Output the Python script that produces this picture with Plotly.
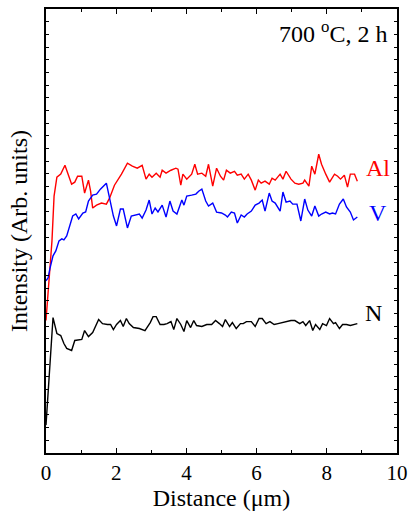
import plotly.graph_objects as go

# Distance (um) and intensity (arb. units)
al_x = [0.00,0.11,0.17,0.23,0.31,0.42,0.54,0.62,0.73,0.82,0.90,1.02,1.10,1.21,1.27,1.33,1.44,1.58,1.72,1.81,1.95,2.15,2.32,2.46,2.60,2.74,2.85,2.94,3.02,3.14,3.25,3.31,3.42,3.56,3.70,3.76,3.84,3.90,4.01,4.15,4.24,4.32,4.44,4.55,4.63,4.75,4.86,4.97,5.06,5.14,5.25,5.37,5.45,5.56,5.65,5.76,5.85,5.96,6.05,6.13,6.24,6.36,6.44,6.53,6.67,6.75,6.84,6.98,7.09,7.20,7.32,7.37,7.49,7.57,7.66,7.77,7.85,7.97,8.08,8.22,8.31,8.39,8.50,8.59,8.67,8.79,8.87]
al_y = [10.44,14.36,16.72,20.25,21.74,21.98,22.68,22.06,21.19,21.35,21.82,21.82,20.49,21.51,20.64,19.31,19.54,19.70,19.62,20.09,21.11,21.98,22.84,22.61,22.45,22.68,21.59,21.98,21.74,22.06,21.74,22.29,22.06,22.29,22.45,22.37,21.11,21.98,21.59,21.98,22.76,21.98,22.06,21.82,22.76,21.04,22.45,21.82,21.51,22.29,22.06,22.21,21.90,21.98,21.59,21.98,21.51,20.72,21.51,21.27,21.43,21.19,21.66,21.51,21.98,21.59,22.21,21.59,21.27,21.19,21.27,21.51,21.04,22.61,21.98,23.55,22.76,21.98,21.35,21.98,21.82,21.59,21.90,20.96,21.98,21.98,21.43]

v_x = [0.00,0.06,0.11,0.20,0.28,0.37,0.45,0.51,0.59,0.68,0.76,0.85,0.93,1.05,1.13,1.21,1.33,1.44,1.55,1.72,1.81,1.92,2.01,2.12,2.20,2.32,2.43,2.57,2.66,2.74,2.85,2.94,3.02,3.11,3.19,3.31,3.42,3.53,3.62,3.73,3.87,3.93,4.01,4.15,4.27,4.35,4.44,4.55,4.63,4.75,4.86,5.00,5.11,5.17,5.28,5.37,5.45,5.56,5.65,5.73,5.85,5.96,6.07,6.16,6.24,6.36,6.44,6.53,6.67,6.75,6.84,6.95,7.03,7.15,7.26,7.37,7.46,7.57,7.66,7.77,7.85,7.97,8.08,8.16,8.25,8.36,8.47,8.56,8.67,8.76,8.87]
v_y = [13.58,13.81,14.52,15.54,15.93,16.72,16.88,16.80,17.11,18.05,18.68,18.84,18.45,18.92,19.00,19.86,20.33,20.41,20.80,21.27,20.02,18.68,17.90,19.23,19.23,17.74,18.68,18.76,18.84,18.52,19.15,19.94,18.84,19.31,19.00,19.54,18.60,19.86,19.07,18.84,19.94,19.54,20.25,20.33,20.41,20.64,20.80,19.86,19.47,19.70,18.99,18.92,18.76,18.60,18.99,18.92,18.13,18.76,18.60,18.84,19.07,19.54,19.70,19.94,19.07,20.49,19.86,19.70,19.07,20.57,19.78,19.86,19.62,19.62,18.29,20.02,19.15,18.68,19.47,18.68,18.84,18.99,18.84,18.92,18.84,19.62,20.02,19.39,18.99,18.37,18.60]

n_x = [0.00,0.20,0.31,0.42,0.51,0.59,0.73,0.82,1.02,1.10,1.21,1.33,1.50,1.61,1.75,1.84,1.92,2.01,2.12,2.20,2.29,2.37,2.49,2.66,2.82,2.97,3.05,3.14,3.25,3.36,3.45,3.56,3.64,3.73,3.84,3.93,4.01,4.12,4.21,4.29,4.44,4.58,4.72,4.83,4.94,5.03,5.11,5.23,5.31,5.42,5.54,5.62,5.71,5.85,5.96,6.07,6.16,6.27,6.38,6.50,6.61,6.75,6.86,6.98,7.09,7.23,7.32,7.40,7.51,7.60,7.68,7.80,7.88,7.99,8.08,8.19,8.25,8.36,8.45,8.56,8.67,8.79,8.87]
n_y = [2.20,10.67,9.42,9.26,8.63,8.24,8.08,8.87,8.95,9.65,9.18,9.50,10.52,10.20,10.13,10.13,9.73,10.13,10.44,9.97,10.60,10.20,9.89,9.81,9.65,10.28,10.75,10.75,10.13,10.13,10.20,10.36,9.73,10.60,10.13,9.58,10.44,9.89,10.44,10.05,9.97,10.13,10.13,10.44,10.20,9.97,10.52,9.97,10.28,9.81,10.20,10.20,10.36,10.36,9.97,10.60,10.60,10.20,10.36,10.13,10.20,10.28,10.36,10.44,10.44,10.20,10.36,10.05,10.44,9.65,10.13,9.73,10.20,10.05,10.60,10.20,10.28,9.81,10.13,10.13,10.05,10.13,10.20]

x_ticks = [0, 2, 4, 6, 8, 10]

FONT = "Liberation Serif, Times New Roman, serif"

fig = go.Figure()
for xs, ys, col in [(al_x, al_y, "#ff0000"), (v_x, v_y, "#0000ff"), (n_x, n_y, "#000000")]:
    fig.add_trace(go.Scatter(x=xs, y=ys, mode="lines",
                             line=dict(color=col, width=1.4), showlegend=False))

fig.update_layout(
    width=415, height=514,
    margin=dict(l=46, r=15, t=7, b=61),
    paper_bgcolor="white", plot_bgcolor="white",
    font=dict(family=FONT, color="black", size=20),
    xaxis=dict(range=[0, 10], tickvals=x_ticks, ticktext=[str(v) for v in x_ticks],
               ticks="inside", ticklen=5, tickwidth=1.2, tickcolor="black",
               minor=dict(dtick=1, ticks="inside", ticklen=3, tickwidth=1, tickcolor="black"),
               showline=True, linecolor="black", linewidth=1.5, mirror="ticks",
               showgrid=False, zeroline=False,
               tickfont=dict(family=FONT, size=21, color="black"),
               title=dict(text="Distance (μm)", font=dict(family=FONT, size=24, color="black"), standoff=2)),
    yaxis=dict(range=[0, 35], dtick=1, ticks="inside", ticklen=3, tickwidth=1, tickcolor="black",
               showticklabels=False,
               showline=True, linecolor="black", linewidth=1.5, mirror="ticks",
               showgrid=False, zeroline=False,
               title=dict(text="Intensity (Arb. units)", font=dict(family=FONT, size=24, color="black"), standoff=10)),
)

fig.add_annotation(x=9.77, y=33.2, xref="x", yref="y", text="700 <sup>o</sup>C, 2 h",
                   showarrow=False, xanchor="right", yanchor="middle",
                   font=dict(family=FONT, size=24, color="black"))
fig.add_annotation(x=9.05, y=22.45, xref="x", yref="y", text="Al", showarrow=False,
                   xanchor="left", yanchor="middle", font=dict(family=FONT, size=24, color="#ff0000"))
fig.add_annotation(x=9.15, y=18.9, xref="x", yref="y", text="V", showarrow=False,
                   xanchor="left", yanchor="middle", font=dict(family=FONT, size=24, color="#0000ff"))
fig.add_annotation(x=9.03, y=11.07, xref="x", yref="y", text="N", showarrow=False,
                   xanchor="left", yanchor="middle", font=dict(family=FONT, size=24, color="black"))

fig.write_html("out.html")
